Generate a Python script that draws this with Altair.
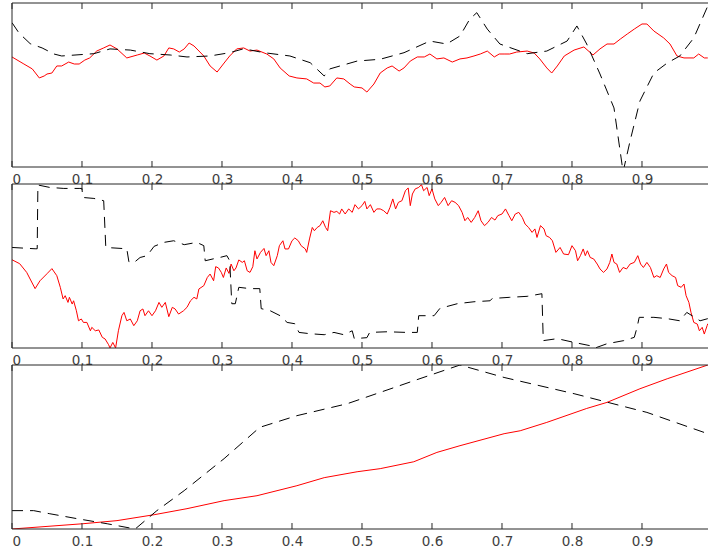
import altair as alt
import pandas as pd

# ---- shared axis settings ----
TICK_VALUES = [0, 0.1, 0.2, 0.3, 0.4, 0.5, 0.6, 0.7, 0.8, 0.9]
X_MAX = 0.9943
PANEL_W = 696
PANEL_H = 164
FRAME = "#262626"
LABEL = "#404040"

# ---- panel 1 ----
p1_red_x = [0.000, 0.017, 0.029, 0.039, 0.046, 0.050, 0.057, 0.064, 0.071, 0.081, 0.089, 0.096,
            0.104, 0.111, 0.121, 0.131, 0.140, 0.150, 0.164, 0.179, 0.189, 0.197, 0.207, 0.217,
            0.224, 0.231, 0.239, 0.246, 0.253, 0.260, 0.274, 0.283, 0.293, 0.303, 0.311, 0.321,
            0.331, 0.340, 0.350, 0.364, 0.374, 0.383, 0.396, 0.407, 0.421, 0.431, 0.440, 0.447,
            0.454, 0.464, 0.474, 0.483, 0.489, 0.500, 0.507, 0.517, 0.526, 0.536, 0.543, 0.553,
            0.560, 0.569, 0.579, 0.589, 0.597, 0.607, 0.617, 0.629, 0.640, 0.650, 0.660, 0.669,
            0.679, 0.689, 0.696, 0.703, 0.711, 0.721, 0.736, 0.746, 0.754, 0.764, 0.771, 0.779,
            0.789, 0.803, 0.817, 0.830, 0.840, 0.850, 0.860, 0.869, 0.879, 0.889, 0.900, 0.907,
            0.917, 0.931, 0.940, 0.950, 0.960, 0.974, 0.981, 0.989, 0.994]
p1_red_y = [0.671, 0.628, 0.598, 0.543, 0.555, 0.567, 0.573, 0.616, 0.616, 0.640, 0.628, 0.628,
            0.652, 0.665, 0.707, 0.726, 0.744, 0.720, 0.665, 0.683, 0.695, 0.677, 0.652, 0.677,
            0.726, 0.720, 0.701, 0.720, 0.756, 0.738, 0.677, 0.616, 0.579, 0.634, 0.677, 0.720,
            0.726, 0.707, 0.713, 0.689, 0.659, 0.604, 0.555, 0.543, 0.537, 0.512, 0.512, 0.488,
            0.494, 0.543, 0.537, 0.506, 0.488, 0.482, 0.457, 0.506, 0.573, 0.604, 0.616, 0.585,
            0.604, 0.646, 0.671, 0.671, 0.689, 0.659, 0.665, 0.640, 0.659, 0.665, 0.677, 0.689,
            0.707, 0.671, 0.689, 0.689, 0.689, 0.701, 0.707, 0.695, 0.659, 0.604, 0.573, 0.616,
            0.677, 0.713, 0.732, 0.683, 0.720, 0.750, 0.750, 0.780, 0.811, 0.841, 0.872, 0.872,
            0.829, 0.787, 0.750, 0.677, 0.665, 0.665, 0.689, 0.665, 0.665]
p1_dash_x = [0.000, 0.010, 0.026, 0.043, 0.060, 0.071, 0.117, 0.140, 0.169, 0.197, 0.226, 0.250,
             0.283, 0.311, 0.331, 0.360, 0.397, 0.426, 0.446, 0.454, 0.493, 0.526, 0.560, 0.597,
             0.621, 0.640, 0.654, 0.664, 0.679, 0.697, 0.736, 0.764, 0.793, 0.807, 0.821, 0.840,
             0.860, 0.873, 0.883, 0.897, 0.917, 0.936, 0.954, 0.974, 0.994]
p1_dash_y = [0.880, 0.817, 0.752, 0.726, 0.689, 0.677, 0.691, 0.720, 0.713, 0.691, 0.683, 0.671,
             0.677, 0.697, 0.721, 0.697, 0.677, 0.636, 0.555, 0.598, 0.646, 0.657, 0.697, 0.768,
             0.750, 0.799, 0.902, 0.941, 0.841, 0.750, 0.691, 0.707, 0.768, 0.860, 0.750, 0.567,
             0.360, -0.030, 0.159, 0.402, 0.573, 0.634, 0.677, 0.787, 0.982]

# ---- panel 2 ----
p2_red_x = [0.000, 0.011, 0.021, 0.033, 0.040, 0.050, 0.057, 0.064, 0.069, 0.073, 0.076, 0.080,
            0.082, 0.086, 0.088, 0.092, 0.095, 0.099, 0.102, 0.107, 0.112, 0.114, 0.119, 0.124,
            0.129, 0.133, 0.138, 0.140, 0.144, 0.148, 0.152, 0.157, 0.160, 0.164, 0.169, 0.174,
            0.179, 0.183, 0.187, 0.190, 0.195, 0.200, 0.205, 0.210, 0.214, 0.219, 0.224, 0.229,
            0.233, 0.238, 0.245, 0.250, 0.255, 0.260, 0.264, 0.267, 0.274, 0.279, 0.283, 0.288,
            0.291, 0.295, 0.299, 0.302, 0.306, 0.310, 0.313, 0.317, 0.320, 0.324, 0.329, 0.332,
            0.336, 0.340, 0.344, 0.347, 0.350, 0.355, 0.360, 0.363, 0.367, 0.370, 0.374, 0.379,
            0.382, 0.387, 0.390, 0.395, 0.400, 0.404, 0.409, 0.413, 0.419, 0.421, 0.425, 0.429,
            0.432, 0.436, 0.440, 0.444, 0.448, 0.451, 0.455, 0.460, 0.464, 0.468, 0.471, 0.476,
            0.481, 0.486, 0.490, 0.495, 0.500, 0.504, 0.507, 0.512, 0.517, 0.521, 0.526, 0.531,
            0.536, 0.540, 0.544, 0.548, 0.552, 0.557, 0.562, 0.566, 0.569, 0.572, 0.576, 0.581,
            0.585, 0.588, 0.593, 0.596, 0.600, 0.604, 0.609, 0.613, 0.618, 0.623, 0.628, 0.633,
            0.638, 0.643, 0.647, 0.651, 0.656, 0.661, 0.666, 0.670, 0.675, 0.680, 0.685, 0.690,
            0.694, 0.700, 0.705, 0.710, 0.714, 0.719, 0.724, 0.729, 0.733, 0.738, 0.743, 0.747,
            0.750, 0.755, 0.760, 0.763, 0.768, 0.772, 0.777, 0.783, 0.788, 0.795, 0.800, 0.805,
            0.808, 0.812, 0.816, 0.819, 0.822, 0.826, 0.831, 0.836, 0.840, 0.845, 0.850, 0.854,
            0.857, 0.860, 0.864, 0.868, 0.873, 0.878, 0.883, 0.889, 0.894, 0.898, 0.902, 0.907,
            0.912, 0.917, 0.921, 0.926, 0.931, 0.935, 0.938, 0.943, 0.948, 0.951, 0.956, 0.960,
            0.963, 0.967, 0.970, 0.974, 0.979, 0.982, 0.986, 0.989, 0.993, 0.994]
p2_red_y = [0.538, 0.514, 0.461, 0.362, 0.410, 0.453, 0.484, 0.441, 0.370, 0.299, 0.319, 0.278,
            0.309, 0.268, 0.288, 0.227, 0.166, 0.177, 0.156, 0.156, 0.105, 0.126, 0.105, 0.110,
            0.065, 0.055, 0.020, 0.000, 0.034, 0.000, 0.105, 0.197, 0.217, 0.166, 0.177, 0.136,
            0.166, 0.227, 0.238, 0.197, 0.227, 0.197, 0.227, 0.278, 0.248, 0.278, 0.191, 0.248,
            0.238, 0.207, 0.227, 0.248, 0.288, 0.309, 0.299, 0.360, 0.380, 0.430, 0.451, 0.410,
            0.496, 0.488, 0.461, 0.430, 0.488, 0.455, 0.512, 0.471, 0.488, 0.537, 0.522, 0.532,
            0.471, 0.461, 0.496, 0.593, 0.543, 0.583, 0.607, 0.563, 0.593, 0.522, 0.502, 0.563,
            0.624, 0.654, 0.604, 0.604, 0.654, 0.671, 0.654, 0.624, 0.604, 0.583, 0.665, 0.735,
            0.715, 0.735, 0.746, 0.776, 0.735, 0.715, 0.837, 0.827, 0.833, 0.817, 0.848, 0.817,
            0.848, 0.827, 0.874, 0.848, 0.868, 0.894, 0.848, 0.874, 0.827, 0.848, 0.848, 0.837,
            0.817, 0.857, 0.909, 0.848, 0.888, 0.898, 0.959, 0.976, 0.868, 0.939, 0.970, 0.979,
            0.996, 0.959, 0.979, 0.929, 0.970, 0.909, 0.868, 0.888, 0.918, 0.868, 0.898, 0.888,
            0.868, 0.827, 0.776, 0.796, 0.766, 0.796, 0.837, 0.776, 0.746, 0.766, 0.796, 0.780,
            0.807, 0.817, 0.848, 0.807, 0.776, 0.817, 0.827, 0.796, 0.756, 0.735, 0.705, 0.726,
            0.674, 0.746, 0.726, 0.685, 0.674, 0.654, 0.583, 0.613, 0.573, 0.569, 0.624, 0.593,
            0.532, 0.563, 0.604, 0.563, 0.593, 0.552, 0.543, 0.512, 0.482, 0.461, 0.482, 0.522,
            0.573, 0.522, 0.512, 0.461, 0.491, 0.482, 0.512, 0.522, 0.563, 0.512, 0.491, 0.522,
            0.491, 0.430, 0.441, 0.430, 0.482, 0.512, 0.461, 0.441, 0.430, 0.380, 0.370, 0.390,
            0.319, 0.278, 0.217, 0.156, 0.146, 0.105, 0.126, 0.085, 0.136, 0.148]
p2_dash_x = [0.000, 0.033, 0.036, 0.037, 0.054, 0.074, 0.097, 0.100, 0.101, 0.117, 0.131, 0.134,
             0.164, 0.167, 0.174, 0.183, 0.193, 0.203, 0.217, 0.231, 0.246, 0.264, 0.274, 0.276,
             0.289, 0.297, 0.307, 0.311, 0.314, 0.319, 0.324, 0.340, 0.354, 0.356, 0.369, 0.383,
             0.393, 0.404, 0.410, 0.426, 0.446, 0.460, 0.474, 0.486, 0.489, 0.507, 0.511, 0.536,
             0.564, 0.579, 0.581, 0.603, 0.611, 0.617, 0.636, 0.660, 0.683, 0.686, 0.711, 0.736,
             0.757, 0.759, 0.779, 0.803, 0.826, 0.833, 0.850, 0.874, 0.889, 0.893, 0.896, 0.917,
             0.936, 0.954, 0.964, 0.983, 0.994]
p2_dash_y = [0.613, 0.605, 0.605, 0.994, 0.979, 0.973, 0.973, 0.973, 0.918, 0.912, 0.898, 0.613,
             0.605, 0.526, 0.520, 0.552, 0.563, 0.620, 0.644, 0.654, 0.630, 0.644, 0.624, 0.532,
             0.545, 0.552, 0.563, 0.532, 0.270, 0.270, 0.370, 0.362, 0.362, 0.240, 0.227, 0.197,
             0.156, 0.148, 0.095, 0.087, 0.081, 0.095, 0.081, 0.105, 0.057, 0.063, 0.095, 0.099,
             0.095, 0.095, 0.197, 0.197, 0.240, 0.248, 0.270, 0.282, 0.288, 0.302, 0.309, 0.315,
             0.331, 0.045, 0.057, 0.034, 0.014, 0.000, 0.026, 0.045, 0.065, 0.126, 0.187, 0.187,
             0.179, 0.166, 0.217, 0.166, 0.179]

# ---- panel 3 ----
p3_red_x = [0.000, 0.101, 0.150, 0.203, 0.250, 0.303, 0.350, 0.407, 0.446, 0.493, 0.526, 0.574,
            0.607, 0.640, 0.703, 0.726, 0.764, 0.821, 0.850, 0.897, 0.936, 0.994]
p3_red_y = [0.000, 0.032, 0.051, 0.087, 0.124, 0.173, 0.203, 0.264, 0.313, 0.349, 0.368, 0.410,
            0.467, 0.508, 0.581, 0.599, 0.650, 0.735, 0.772, 0.855, 0.916, 1.000]
p3_dash_x = [0.000, 0.031, 0.054, 0.093, 0.136, 0.176, 0.207, 0.246, 0.303, 0.354, 0.407, 0.479,
             0.526, 0.574, 0.640, 0.703, 0.803, 0.907, 0.994]
p3_dash_y = [0.112, 0.112, 0.093, 0.063, 0.032, 0.000, 0.112, 0.234, 0.429, 0.620, 0.691, 0.764,
             0.833, 0.904, 1.000, 0.924, 0.825, 0.711, 0.581]


def panel(red_x, red_y, dash_x, dash_y):
    xs = alt.Scale(domain=[0, X_MAX], nice=False, zero=False)
    ys = alt.Scale(domain=[0, 1], nice=False, zero=False)
    x_axis = alt.Axis(values=TICK_VALUES, format=".1~f", ticks=False, domain=False,
                      grid=False, title=None, labelColor=LABEL, labelFontSize=13.5,
                      labelFont="DejaVu Sans", labelPadding=5)

    red = alt.Chart(pd.DataFrame({"x": red_x, "y": red_y})).mark_line(
        color="#ff0000", strokeWidth=1, clip=True
    ).encode(
        x=alt.X("x:Q", scale=xs, axis=x_axis),
        y=alt.Y("y:Q", scale=ys, axis=None),
    )
    dash = alt.Chart(pd.DataFrame({"x": dash_x, "y": dash_y})).mark_line(
        color="#000000", strokeWidth=1, strokeDash=[11, 7], clip=True
    ).encode(
        x=alt.X("x:Q", scale=xs),
        y=alt.Y("y:Q", scale=ys, axis=None),
    )

    ticks = pd.DataFrame({"t": TICK_VALUES})
    top_ticks = alt.Chart(ticks).mark_rule(color=FRAME, strokeWidth=1).encode(
        x=alt.X("t:Q", scale=xs), y=alt.value(0), y2=alt.value(6)
    )
    bottom_ticks = alt.Chart(ticks).mark_rule(color=FRAME, strokeWidth=1).encode(
        x=alt.X("t:Q", scale=xs), y=alt.value(PANEL_H), y2=alt.value(PANEL_H - 6)
    )

    one = pd.DataFrame({"k": [0]})
    left_edge = alt.Chart(one).mark_rule(color=FRAME, strokeWidth=1).encode(
        x=alt.value(0), y=alt.value(0), y2=alt.value(PANEL_H)
    )
    top_edge = alt.Chart(one).mark_rule(color=FRAME, strokeWidth=1).encode(
        x=alt.value(0), x2=alt.value(PANEL_W), y=alt.value(0)
    )
    bottom_edge = alt.Chart(one).mark_rule(color=FRAME, strokeWidth=1).encode(
        x=alt.value(0), x2=alt.value(PANEL_W), y=alt.value(PANEL_H)
    )

    return alt.layer(
        red, dash, top_ticks, bottom_ticks, left_edge, top_edge, bottom_edge
    ).properties(width=PANEL_W, height=PANEL_H)


chart = alt.vconcat(
    panel(p1_red_x, p1_red_y, p1_dash_x, p1_dash_y),
    panel(p2_red_x, p2_red_y, p2_dash_x, p2_dash_y),
    panel(p3_red_x, p3_red_y, p3_dash_x, p3_dash_y),
    spacing=17,
    bounds="flush",
).properties(
    padding={"left": 11, "top": 2, "right": 0, "bottom": 0},
    background="white",
).configure_view(stroke=None)

chart.save("out.html", embed_options={"renderer": "svg", "actions": False})
